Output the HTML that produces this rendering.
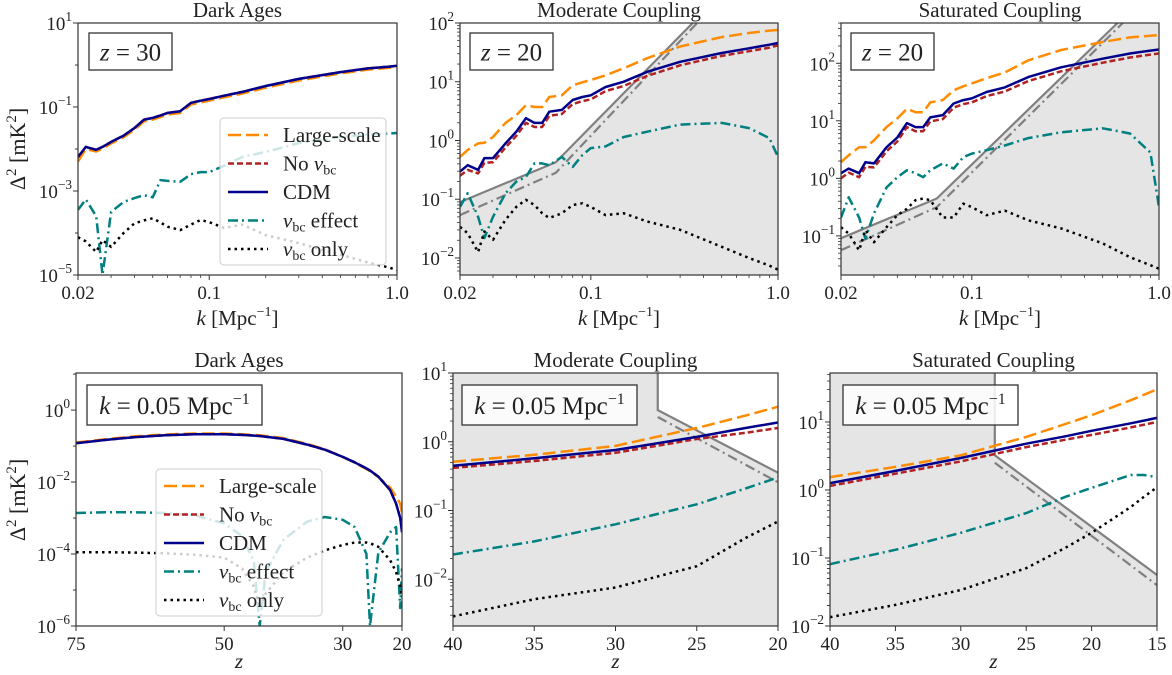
<!DOCTYPE html>
<html><head><meta charset="utf-8"><style>
html,body{margin:0;padding:0;background:#fff}
svg{display:block}
text{font-family:"Liberation Serif","DejaVu Serif",serif;fill:#222}
</style></head>
<body>
<svg id="fig" width="1172" height="675" viewBox="0 0 1172 675" xmlns="http://www.w3.org/2000/svg"></svg>
<script>
// ---- shared k grid (Mpc^-1) for top row ----
const kGrid = [0.02,0.022,0.025,0.027,0.03,0.035,0.04,0.045,0.05,0.055,0.06,0.07,0.08,0.09,0.1,0.12,0.15,0.2,0.3,0.5,0.7,0.9,1.0];
// values below are log10(Δ² / mK²)
// Panel 1: Dark Ages, z=30
const p1Large = [-2.3,-2.0,-2.06,-1.99,-1.87,-1.72,-1.54,-1.34,-1.3,-1.24,-1.18,-1.14,-0.94,-0.89,-0.85,-0.77,-0.68,-0.54,-0.37,-0.2,-0.11,-0.07,-0.05];
const p1NoV   = [-2.19,-1.95,-2.02,-1.95,-1.83,-1.68,-1.5,-1.3,-1.26,-1.2,-1.14,-1.1,-0.9,-0.85,-0.81,-0.73,-0.64,-0.5,-0.33,-0.17,-0.08,-0.04,-0.02];
const p1CDM   = [-2.19,-1.95,-2.02,-1.95,-1.83,-1.68,-1.5,-1.3,-1.26,-1.2,-1.14,-1.1,-0.9,-0.85,-0.81,-0.73,-0.64,-0.5,-0.33,-0.17,-0.08,-0.04,-0.02];
const p1Effect= [-3.45,-3.2,-3.6,-5,-3.5,-3.26,-3.17,-3.1,-3.15,-2.74,-2.76,-2.78,-2.6,-2.55,-2.55,-2.4,-2.19,-2.07,-1.86,-1.71,-1.66,-1.63,-1.62];
const p1Only  = [-4.1,-4.2,-4.45,-4.17,-4.33,-4.0,-3.77,-3.7,-3.65,-3.75,-3.85,-3.93,-3.8,-3.69,-3.74,-3.88,-3.8,-4.05,-4.24,-4.52,-4.7,-4.82,-4.88];
// Panel 2: Moderate coupling, z=20
const p2Large = [-0.28,-0.16,-0.05,-0.04,0.06,0.3,0.43,0.6,0.57,0.57,0.74,0.77,0.94,0.99,1.03,1.11,1.23,1.4,1.6,1.76,1.83,1.87,1.88];
const p2NoV   = [-0.6,-0.5,-0.56,-0.38,-0.37,-0.12,0.08,0.3,0.23,0.23,0.42,0.45,0.62,0.67,0.7,0.84,0.93,1.1,1.28,1.44,1.52,1.58,1.62];
const p2CDM   = [-0.53,-0.42,-0.5,-0.3,-0.3,-0.05,0.15,0.38,0.3,0.3,0.49,0.52,0.69,0.74,0.77,0.91,1.0,1.17,1.34,1.49,1.57,1.63,1.66];
const p2Effect= [-1.13,-0.9,-1.3,-1.66,-1.3,-0.9,-0.7,-0.62,-0.39,-0.39,-0.42,-0.28,-0.45,-0.25,-0.13,-0.1,0.06,0.15,0.27,0.3,0.21,0.04,-0.28];
const p2Only  = [-1.47,-1.58,-1.9,-1.55,-1.69,-1.35,-1.13,-1.01,-1.1,-1.24,-1.32,-1.24,-1.1,-1.07,-1.13,-1.27,-1.24,-1.38,-1.52,-1.81,-2.0,-2.13,-2.2];
const p2GrayK = [0.02,0.065,0.35];
const p2GraySolid = [-1.05,-0.37,2.0];
const p2GrayDashK = [0.02,0.065,0.37];
const p2GrayDash = [-1.27,-0.55,2.0];
// Panel 3: Saturated coupling, z=20
const p3Large = [0.28,0.4,0.54,0.54,0.66,0.89,1.04,1.21,1.15,1.15,1.32,1.36,1.53,1.6,1.65,1.74,1.84,2.05,2.23,2.37,2.45,2.48,2.49];
const p3NoV   = [0.0,0.1,0.02,0.2,0.19,0.47,0.64,0.89,0.82,0.82,0.99,1.03,1.23,1.29,1.32,1.43,1.51,1.69,1.86,2.01,2.1,2.15,2.17];
const p3CDM   = [0.09,0.17,0.09,0.28,0.26,0.54,0.71,0.96,0.89,0.89,1.06,1.1,1.3,1.36,1.39,1.5,1.58,1.76,1.93,2.08,2.17,2.22,2.24];
const p3Effect= [-0.68,-0.33,-0.68,-1.05,-0.61,-0.16,0.02,0.14,0.09,0.02,0.14,0.26,0.17,0.37,0.43,0.49,0.57,0.7,0.8,0.87,0.78,0.45,-0.5];
const p3Only  = [-0.85,-0.96,-1.25,-0.9,-1.11,-0.85,-0.64,-0.53,-0.38,-0.35,-0.38,-0.68,-0.68,-0.44,-0.5,-0.64,-0.56,-0.73,-0.87,-1.13,-1.37,-1.51,-1.57];
const p3GrayK = [0.02,0.065,0.6];
const p3GraySolid = [-1.04,-0.35,2.7];
const p3GrayDashK = [0.02,0.065,0.64];
const p3GrayDash = [-1.25,-0.5,2.7];
// Panel 4: Dark Ages, k=0.05
const z4 = [75,70,65,60,55,50,47,45,44,43,40,36,33,30,28,26,25.4,24,22,21,20.3,20];
const p4Large = [-0.9,-0.81,-0.73,-0.68,-0.65,-0.65,-0.67,-0.69,-0.7,-0.72,-0.78,-0.94,-1.09,-1.3,-1.46,-1.64,-1.7,-1.86,-2.15,-2.4,-2.6,-2.86];
const p4NoV   = [-0.92,-0.83,-0.75,-0.7,-0.67,-0.67,-0.69,-0.71,-0.72,-0.74,-0.8,-0.96,-1.1,-1.3,-1.45,-1.62,-1.68,-1.85,-2.22,-2.6,-3.0,-3.3];
const p4CDM   = [-0.92,-0.83,-0.75,-0.7,-0.67,-0.67,-0.69,-0.71,-0.72,-0.74,-0.8,-0.96,-1.1,-1.3,-1.45,-1.62,-1.68,-1.85,-2.22,-2.6,-3.0,-3.4];
const p4Effect= [-2.86,-2.84,-2.84,-2.86,-2.92,-3.15,-3.5,-4.2,-6,-4.5,-3.6,-3.1,-2.97,-3.05,-3.25,-4.0,-6,-3.97,-3.4,-3.25,-5.5,-4.4];
const p4Only  = [-3.95,-3.95,-3.96,-3.98,-4.02,-4.1,-4.4,-4.9,-5.5,-5.1,-4.5,-4.1,-3.9,-3.75,-3.68,-3.68,-3.7,-3.8,-4.17,-4.5,-4.9,-5.2];
// Panel 5: Moderate coupling, k=0.05
const z5 = [40,35,30,25,22,20];
const p5Large = [-0.29,-0.19,-0.06,0.2,0.38,0.51];
const p5NoV   = [-0.38,-0.28,-0.16,0.04,0.13,0.2];
const p5CDM   = [-0.35,-0.24,-0.12,0.07,0.2,0.28];
const p5Effect= [-1.64,-1.45,-1.2,-0.91,-0.68,-0.52];
const p5Only  = [-2.54,-2.29,-2.12,-1.81,-1.4,-1.16];
const p5GrayZ = [27.4,27.4,20];
const p5GraySolid = [1.1,0.46,-0.45];
const p5GrayDashZ = [27.4,20];
const p5GrayDash = [0.36,-0.59];
// Panel 6: Saturated coupling, k=0.05
const z6 = [40,35,30,25,22,20,17,16,15];
const p6Large = [0.19,0.34,0.51,0.78,0.97,1.1,1.32,1.4,1.48];
const p6NoV   = [0.06,0.24,0.42,0.63,0.74,0.81,0.92,0.96,1.0];
const p6CDM   = [0.1,0.28,0.47,0.68,0.79,0.87,0.98,1.02,1.06];
const p6Effect= [-1.09,-0.88,-0.63,-0.34,-0.1,0.03,0.22,0.22,0.19];
const p6Only  = [-1.87,-1.69,-1.47,-1.15,-0.85,-0.63,-0.25,-0.1,0.04];
const p6GrayZ = [27.4,27.4,15];
const p6GraySolid = [1.8,0.51,-1.25];
const p6GrayDashZ = [27.4,15];
const p6GrayDash = [0.4,-1.4];

const NS = "http://www.w3.org/2000/svg";
const svg = document.getElementById('fig');
function mk(tag, parent, attrs){ const e=document.createElementNS(NS,tag); for(const k in attrs) e.setAttribute(k,attrs[k]); parent.appendChild(e); return e; }

const STY = {
  large:{stroke:'#ff8c00',dash:'13,5',name:'large-scale'},
  nov:{stroke:'#b22222',dash:'6,3',name:'no-vbc'},
  cdm:{stroke:'#00008b',dash:'',name:'cdm'},
  eff:{stroke:'#008080',dash:'10,4,2,4',name:'vbc-effect'},
  only:{stroke:'#000',dash:'2.5,4',name:'vbc-only'}
};
const TICK = 19;

function supText(parent, x, y, base, exp, anchor, size){
  const t = mk('text', parent, {x:x, y:y, 'text-anchor':anchor, 'font-size':size});
  const a = mk('tspan', t, {}); a.textContent = base;
  const b = mk('tspan', t, {dy:-9, 'font-size':size*0.7}); b.textContent = exp;
  return t;
}

let clipId = 0;
function panel(P){
  const g = mk('g', svg, {});
  
  
  const X = v => P.xlog ? P.x0 + (Math.log10(v)-Math.log10(P.xmin))/(Math.log10(P.xmax)-Math.log10(P.xmin))*(P.x1-P.x0)
                        : P.x0 + (v-P.xmin)/(P.xmax-P.xmin)*(P.x1-P.x0);
  const Y = e => P.y1 - (e-P.ymin)/(P.ymax-P.ymin)*(P.y1-P.y0);
  const cid = 'clip'+(clipId++);
  const cp = mk('clipPath', g, {id:cid});
  mk('rect', cp, {x:P.x0, y:P.y0, width:P.x1-P.x0, height:P.y1-P.y0});
  const plot = mk('g', g, {'clip-path':'url(#'+cid+')'});
  if (P.gray){
    const pts = P.gray(X,Y);
    const poly = mk('polygon', plot, {points:pts.map(p=>p.join(',')).join(' '), fill:'#e5e5e5', stroke:'none'});
    
    
  }
  if (P.grayLines){
    for (const L of P.grayLines){
      const pl = mk('polyline', plot, {points:L.xs.map((x,i)=>X(x)+','+Y(L.ys[i])).join(' '), fill:'none', stroke:'#808080', 'stroke-width':2.2, 'stroke-dasharray':L.dash||''});
      
      
    }
  }
  for (const s of P.series){
    const st = STY[s.key];
    const pl = mk('polyline', plot, {points:P.xs.map((x,i)=>X(x).toFixed(1)+','+Y(s.vals[i]).toFixed(1)).join(' '), fill:'none', stroke:st.stroke, 'stroke-width':2.5, 'stroke-dasharray':st.dash, 'stroke-linejoin':'round'});
    
    
  }
  const fr = mk('rect', g, {x:P.x0, y:P.y0, width:P.x1-P.x0, height:P.y1-P.y0, fill:'none', stroke:'#333', 'stroke-width':1.2});
  
  
  const xt = mk('g', g, {});
  
  
  for (const t of P.xticks){
    const x = X(t.v);
    mk('line', xt, {x1:x, x2:x, y1:P.y1, y2:P.y1+5, stroke:'#333', 'stroke-width':1});
    const tx = mk('text', xt, {x:x, y:P.y1+24, 'text-anchor':'middle', 'font-size':TICK}); tx.textContent = t.l;
  }
  if (P.xminor) for (const v of P.xminor){ const x=X(v); mk('line', xt, {x1:x,x2:x,y1:P.y1,y2:P.y1+3,stroke:'#333','stroke-width':0.8}); }
  const yt = mk('g', g, {});
  
  
  for (let e=Math.ceil(P.ymin-1e-9); e<=Math.floor(P.ymax+1e-9); e++){
    const y = Y(e);
    const labeled = P.ylab.includes(e);
    mk('line', yt, {x1:P.x0-(labeled?5:3), x2:P.x0, y1:y, y2:y, stroke:'#333', 'stroke-width':1});
    if (labeled) supText(yt, P.x0-6, y+7, '10', (e<0?'−':'')+Math.abs(e), 'end', TICK);
    if (P.yminorSubs) for (let m=2;m<=9;m++){ const em=e+Math.log10(m); if(em<=P.ymax){ const ym=Y(em); mk('line', yt,{x1:P.x0-3,x2:P.x0,y1:ym,y2:ym,stroke:'#333','stroke-width':0.8}); } }
  }
  if (P.yminorSubs) { const e0=Math.floor(P.ymin); for(let m=2;m<=9;m++){ const em=e0+Math.log10(m); if(em>=P.ymin){ const ym=Y(em); mk('line', yt,{x1:P.x0-3,x2:P.x0,y1:ym,y2:ym,stroke:'#333','stroke-width':0.8}); } } }
  const ti = mk('text', g, {x:(P.x0+P.x1)/2, y:P.y0-6, 'text-anchor':'middle', 'font-size':21});
  ti.textContent = P.title;
  
  
  const xl = mk('text', g, {x:(P.x0+P.x1)/2, y:P.y1+(P.xlog?50:42), 'text-anchor':'middle', 'font-size':21});
  
  
  if (P.xlog){
    const a=mk('tspan',xl,{'font-style':'italic'}); a.textContent='k ';
    const b=mk('tspan',xl,{}); b.textContent='[Mpc';
    const c=mk('tspan',xl,{dy:-9,'font-size':14}); c.textContent='−1';
    const d=mk('tspan',xl,{dy:9}); d.textContent=']';
  } else { const a=mk('tspan',xl,{'font-style':'italic'}); a.textContent='z'; }
  const bx = mk('g', g, {});
  
  
  mk('rect', bx, {x:P.box[0], y:P.box[1], width:P.box[2], height:P.box[3], fill:'#fff', 'fill-opacity':0.85, stroke:'#333', 'stroke-width':1.3});
  const bt = mk('text', bx, {x:P.box[0]+P.box[2]/2, y:P.box[1]+P.box[3]/2+9, 'text-anchor':'middle', 'font-size':25});
  const i1=mk('tspan',bt,{'font-style':'italic'}); i1.textContent=P.boxVar;
  const i2=mk('tspan',bt,{}); i2.textContent=' = '+P.boxVal;
  if (P.boxUnit){ const i3=mk('tspan',bt,{}); i3.textContent=' Mpc'; const i4=mk('tspan',bt,{dy:-10,'font-size':16}); i4.textContent='−1'; }
  return g;
}

function legend(x,y){
  const g = mk('g', svg, {});
  
  
  mk('rect', g, {x:x, y:y, width:166, height:147, rx:4, fill:'#fff', 'fill-opacity':0.8, stroke:'#ccc', 'stroke-width':1});
  const items = ['large','nov','cdm','eff','only'];
  items.forEach((key,i)=>{
    const st = STY[key];
    const yy = y+17+i*28.5;
    const e = mk('g', g, {});
    
    
    mk('line', e, {x1:x+8, x2:x+48, y1:yy, y2:yy, stroke:st.stroke, 'stroke-width':2.5, 'stroke-dasharray':st.dash});
    const t = mk('text', e, {x:x+63, y:yy+7, 'font-size':21});
    if (key==='large') t.textContent='Large-scale';
    else if (key==='cdm') t.textContent='CDM';
    else if (key==='nov'){ const a=mk('tspan',t,{}); a.textContent='No '; const b=mk('tspan',t,{'font-style':'italic'}); b.textContent='v'; const c=mk('tspan',t,{dy:4,'font-size':14}); c.textContent='bc'; }
    else { const b=mk('tspan',t,{'font-style':'italic'}); b.textContent='v'; const c=mk('tspan',t,{dy:4,'font-size':14}); c.textContent='bc'; const d=mk('tspan',t,{dy:-4}); d.textContent= key==='eff'?' effect':' only'; }
  });
}

const kMinor = [0.03,0.04,0.05,0.06,0.07,0.08,0.09,0.2,0.3,0.4,0.5,0.6,0.7,0.8,0.9];
const kTicks = [{v:0.02,l:'0.02'},{v:0.1,l:'0.1'},{v:1,l:'1.0'}];
function ser(a,b,c,d,e){ return [{key:'large',vals:a},{key:'nov',vals:b},{key:'cdm',vals:c},{key:'eff',vals:d},{key:'only',vals:e}]; }

panel({name:'panel-dark-ages-k', x0:78,x1:397,y0:23,y1:275, xlog:true,xmin:0.02,xmax:1, ymin:-5,ymax:1, ylab:[-5,-3,-1,1],
  xs:kGrid, series:ser(p1Large,p1NoV,p1CDM,p1Effect,p1Only), xticks:kTicks, xminor:kMinor, title:'Dark Ages',
  box:[89,33,83,37], boxVar:'z', boxVal:'30'});
legend(220,118);

panel({name:'panel-moderate-k', x0:460,x1:778,y0:23,y1:275, xlog:true,xmin:0.02,xmax:1, ymin:-2.29,ymax:2, ylab:[-2,-1,0,1,2], yminorSubs:true,
  xs:kGrid, series:ser(p2Large,p2NoV,p2CDM,p2Effect,p2Only), xticks:kTicks, xminor:kMinor, title:'Moderate Coupling',
  gray:(X,Y)=>[[460,275]].concat(p2GrayK.map((k,i)=>[X(k),Y(p2GraySolid[i])])).concat([[778,23],[778,275]]),
  grayLines:[{xs:p2GrayK,ys:p2GraySolid,name:'sensitivity-line'},{xs:p2GrayDashK,ys:p2GrayDash,dash:'10,4,2,4',name:'sensitivity-line-alt'}],
  box:[470,33,83,37], boxVar:'z', boxVal:'20'});

panel({name:'panel-saturated-k', x0:841,x1:1159,y0:23,y1:275, xlog:true,xmin:0.02,xmax:1, ymin:-1.68,ymax:2.70, ylab:[-1,0,1,2], yminorSubs:true,
  xs:kGrid, series:ser(p3Large,p3NoV,p3CDM,p3Effect,p3Only), xticks:kTicks, xminor:kMinor, title:'Saturated Coupling',
  gray:(X,Y)=>[[841,275]].concat(p3GrayK.map((k,i)=>[X(k),Y(p3GraySolid[i])])).concat([[1159,23],[1159,275]]),
  grayLines:[{xs:p3GrayK,ys:p3GraySolid,name:'sensitivity-line'},{xs:p3GrayDashK,ys:p3GrayDash,dash:'10,4,2,4',name:'sensitivity-line-alt'}],
  box:[851,33,83,37], boxVar:'z', boxVal:'20'});

panel({name:'panel-dark-ages-z', x0:76,x1:402,y0:373,y1:626, xlog:false,xmin:75,xmax:20, ymin:-6,ymax:1.03, ylab:[-6,-4,-2,0],
  xs:z4, series:ser(p4Large,p4NoV,p4CDM,p4Effect,p4Only), xticks:[{v:75,l:'75'},{v:50,l:'50'},{v:30,l:'30'},{v:20,l:'20'}], title:'Dark Ages',
  box:[87,385,175,40], boxVar:'k', boxVal:'0.05', boxUnit:true});
legend(156,469);

panel({name:'panel-moderate-z', x0:453,x1:778,y0:373,y1:626, xlog:false,xmin:40,xmax:20, ymin:-2.68,ymax:1, ylab:[-2,-1,0,1], yminorSubs:true,
  xs:z5, series:ser(p5Large,p5NoV,p5CDM,p5Effect,p5Only), xticks:[40,35,30,25,20].map(v=>({v:v,l:String(v)})), title:'Moderate Coupling',
  gray:(X,Y)=>[[453,373],[X(p5GrayZ[0]),373]].concat(p5GrayZ.slice(1).map((z,i)=>[X(z),Y(p5GraySolid[i+1])])).concat([[778,626],[453,626]]),
  grayLines:[{xs:p5GrayZ,ys:p5GraySolid,name:'sensitivity-line'},{xs:p5GrayDashZ,ys:p5GrayDash,dash:'10,4,2,4',name:'sensitivity-line-alt'}],
  box:[462,385,175,40], boxVar:'k', boxVal:'0.05', boxUnit:true});

panel({name:'panel-saturated-z', x0:830,x1:1157,y0:373,y1:626, xlog:false,xmin:40,xmax:15, ymin:-2,ymax:1.72, ylab:[-2,-1,0,1], yminorSubs:true,
  xs:z6, series:ser(p6Large,p6NoV,p6CDM,p6Effect,p6Only), xticks:[40,35,30,25,20,15].map(v=>({v:v,l:String(v)})), title:'Saturated Coupling',
  gray:(X,Y)=>[[830,373],[X(p6GrayZ[0]),373]].concat(p6GrayZ.slice(1).map((z,i)=>[X(z),Y(p6GraySolid[i+1])])).concat([[1157,626],[830,626]]),
  grayLines:[{xs:p6GrayZ,ys:p6GraySolid,name:'sensitivity-line'},{xs:p6GrayDashZ,ys:p6GrayDash,dash:'10,4,2,4',name:'sensitivity-line-alt'}],
  box:[843,385,175,40], boxVar:'k', boxVal:'0.05', boxUnit:true});

[149,500].forEach(cy=>{
  const t = mk('text', svg, {x:0, y:0, 'text-anchor':'middle', 'font-size':22, transform:'translate(25,'+cy+') rotate(-90)'});
  
  
  const a=mk('tspan',t,{}); a.textContent='Δ';
  const b=mk('tspan',t,{dy:-9,'font-size':15}); b.textContent='2';
  const c=mk('tspan',t,{dy:9}); c.textContent='  [mK';
  const d=mk('tspan',t,{dy:-9,'font-size':15}); d.textContent='2';
  const e=mk('tspan',t,{dy:9}); e.textContent=']';
});
</script>
</body></html>
